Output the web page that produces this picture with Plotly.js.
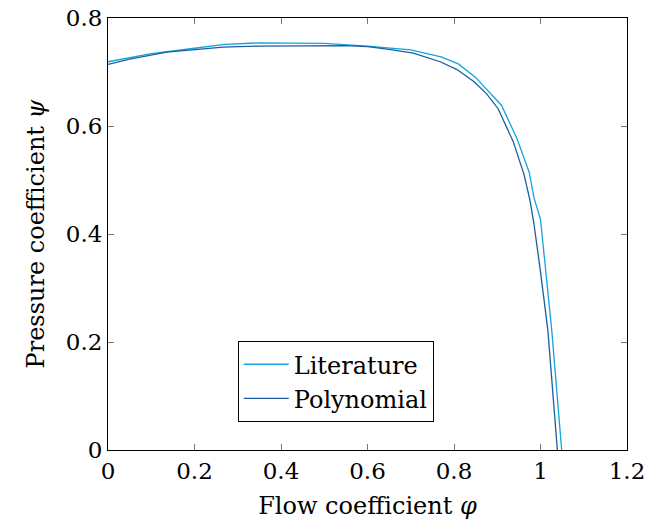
<!DOCTYPE html>
<html>
<head>
<meta charset="utf-8">
<script src="https://cdn.plot.ly/plotly-3.0.1.min.js"></script>
<style>html,body{margin:0;padding:0;background:#fff;}#chart{width:649px;height:525px;}</style>
</head>
<body>
<div id="chart"></div>
<script>
const litPhi = [0, 0.1, 0.2, 0.27, 0.35, 0.5, 0.6, 0.7, 0.77, 0.81, 0.85, 0.91, 0.946, 0.974, 0.985, 1.0, 1.026, 1.049];
const litPsi = [0.719, 0.734, 0.744, 0.751, 0.754, 0.753, 0.748, 0.741, 0.728, 0.715, 0.69, 0.638, 0.576, 0.514, 0.467, 0.427, 0.222, 0];
const polyPhi = [0, 0.05, 0.136, 0.2, 0.266, 0.35, 0.444, 0.55, 0.6, 0.65, 0.706, 0.768, 0.806, 0.845, 0.875, 0.902, 0.937, 0.962, 0.976, 0.985, 1.0, 1.017, 1.039];
const polyPsi = [0.714, 0.724, 0.737, 0.742, 0.746, 0.748, 0.749, 0.749, 0.747, 0.742, 0.735, 0.719, 0.705, 0.683, 0.66, 0.632, 0.571, 0.51, 0.461, 0.418, 0.33, 0.222, 0];
const xTicks = [0, 0.2, 0.4, 0.6, 0.8, 1, 1.2];
const xTickText = ['0', '0.2', '0.4', '0.6', '0.8', '1', '1.2'];
const yTicks = [0, 0.2, 0.4, 0.6, 0.8];
const yTickText = ['0', '0.2', '0.4', '0.6', '0.8'];

const font = "DejaVu Serif";
const traces = [
  {x: litPhi, y: litPsi, mode: 'lines', name: 'Literature', line: {color: '#12a4de', width: 1.3}},
  {x: polyPhi, y: polyPsi, mode: 'lines', name: 'Polynomial', line: {color: '#1c5e9e', width: 1.3}}
];
const axisCommon = {
  showgrid: false, zeroline: false, showline: true, mirror: 'ticks', linecolor: '#000', linewidth: 1,
  ticks: 'inside', ticklen: 6, tickcolor: '#777', tickwidth: 1,
  tickfont: {family: font, size: 23, color: '#000'}
};
const layout = {
  width: 649, height: 525,
  margin: {l: 108, r: 22, t: 18, b: 75},
  paper_bgcolor: '#fff', plot_bgcolor: '#fff',
  font: {family: font},
  showlegend: true,
  legend: {x: 0.25, y: 0.252, xanchor: 'left', yanchor: 'top', bordercolor: '#000', borderwidth: 1,
           bgcolor: '#fff', font: {family: font, size: 24, color: '#000'}, itemwidth: 45, tracegroupgap: 0},
  xaxis: Object.assign({}, axisCommon, {range: [0, 1.2], tickvals: xTicks, ticktext: xTickText,
          title: {text: 'Flow coefficient <i>φ</i>', font: {family: font, size: 24, color: '#000'}, standoff: 14}}),
  yaxis: Object.assign({}, axisCommon, {range: [0, 0.8], tickvals: yTicks, ticktext: yTickText,
          title: {text: 'Pressure coefficient <i>ψ</i>', font: {family: font, size: 24, color: '#000'}, standoff: 14}})
};
Plotly.newPlot('chart', traces, layout, {displayModeBar: false, staticPlot: true});
</script>
</body>
</html>
